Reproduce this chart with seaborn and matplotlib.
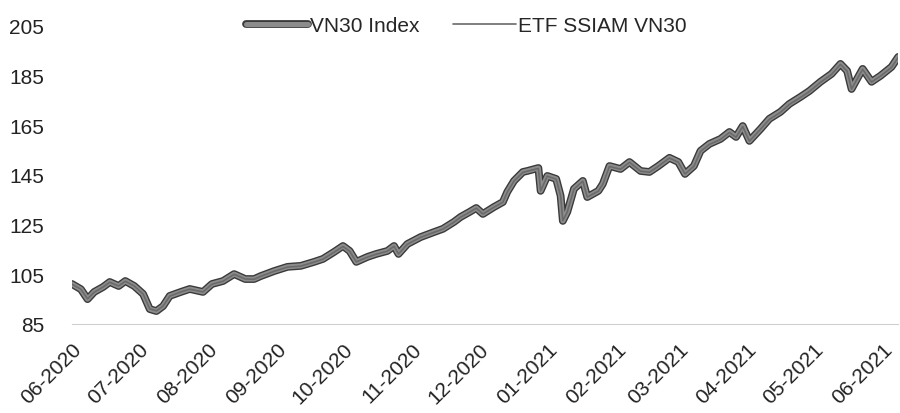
import pandas as pd
import seaborn as sns
import matplotlib.dates as mdates
import matplotlib.patheffects as pe
from matplotlib import pyplot as plt

# duong gia tri doc tu bieu do (goc = 100)
dates = [
    "2020-06-01", "2020-06-05", "2020-06-08", "2020-06-11", "2020-06-15", "2020-06-18",
    "2020-06-22", "2020-06-25", "2020-06-29", "2020-07-03", "2020-07-06", "2020-07-09",
    "2020-07-12", "2020-07-15", "2020-07-20", "2020-07-24", "2020-07-30", "2020-08-03",
    "2020-08-08", "2020-08-13", "2020-08-18", "2020-08-22", "2020-08-25", "2020-08-31",
    "2020-09-06", "2020-09-12", "2020-09-18", "2020-09-22", "2020-09-27", "2020-10-01",
    "2020-10-04", "2020-10-07", "2020-10-12", "2020-10-16", "2020-10-21", "2020-10-24",
    "2020-10-26", "2020-10-30", "2020-11-05", "2020-11-11", "2020-11-15", "2020-11-20",
    "2020-11-23", "2020-11-27", "2020-11-30", "2020-12-03", "2020-12-08", "2020-12-12",
    "2020-12-14", "2020-12-17", "2020-12-21", "2020-12-23", "2020-12-28", "2020-12-29",
    "2021-01-01", "2021-01-05", "2021-01-07", "2021-01-08", "2021-01-10", "2021-01-13",
    "2021-01-17", "2021-01-19", "2021-01-24", "2021-01-26", "2021-01-29", "2021-02-03",
    "2021-02-07", "2021-02-12", "2021-02-16", "2021-02-20", "2021-02-25", "2021-03-01",
    "2021-03-04", "2021-03-08", "2021-03-11", "2021-03-15", "2021-03-20", "2021-03-24",
    "2021-03-27", "2021-03-30", "2021-04-02", "2021-04-07", "2021-04-11", "2021-04-16",
    "2021-04-20", "2021-04-25", "2021-04-29", "2021-05-04", "2021-05-09", "2021-05-13",
    "2021-05-16", "2021-05-18", "2021-05-21", "2021-05-23", "2021-05-27", "2021-05-31",
    "2021-06-05", "2021-06-08",
]

vn30 = [
    101.1, 99.0, 95.0, 97.9, 99.9, 101.9,
    100.3, 102.3, 100.3, 97.1, 91.0, 90.2,
    92.2, 96.3, 97.9, 99.1, 97.9, 101.1,
    102.3, 105.1, 103.1, 103.1, 104.3, 106.3,
    108.0, 108.4, 110.0, 111.2, 114.0, 116.4,
    114.4, 110.0, 112.0, 113.2, 114.4, 116.4,
    113.2, 117.2, 120.0, 122.0, 123.3, 126.1,
    128.1, 130.1, 131.7, 129.3, 132.1, 134.1,
    138.2, 142.6, 146.2, 146.6, 147.8, 138.6,
    144.6, 143.4, 136.6, 126.5, 130.1, 139.4,
    142.6, 136.1, 138.6, 141.4, 148.6, 147.4,
    150.2, 146.6, 146.2, 148.6, 151.9, 150.2,
    145.4, 148.6, 154.7, 157.5, 159.5, 162.3,
    160.3, 164.7, 158.7, 163.5, 167.6, 170.4,
    173.6, 176.4, 178.8, 182.5, 185.7, 189.7,
    186.9, 179.6, 184.5, 187.7, 182.5, 184.9,
    188.5, 192.5,
]

etf = [
    101.0, 99.0, 95.1, 97.8, 99.9, 101.8,
    100.3, 102.2, 100.3, 97.1, 91.1, 90.3,
    92.2, 96.2, 97.9, 99.0, 97.9, 101.0,
    102.2, 105.0, 103.1, 103.0, 104.2, 106.2,
    107.9, 108.3, 109.9, 111.1, 113.9, 116.2,
    114.3, 110.0, 111.9, 113.1, 114.3, 116.3,
    113.2, 117.1, 119.9, 121.9, 123.2, 126.0,
    128.0, 130.0, 131.6, 129.3, 132.0, 134.0,
    138.1, 142.5, 146.0, 146.5, 147.6, 138.6,
    144.5, 143.3, 136.6, 126.6, 130.1, 139.3,
    142.5, 136.1, 138.5, 141.3, 148.4, 147.3,
    150.1, 146.5, 146.1, 148.5, 151.8, 150.1,
    145.4, 148.5, 154.5, 157.3, 159.3, 162.1,
    160.2, 164.5, 158.6, 163.4, 167.4, 170.2,
    173.4, 176.2, 178.6, 182.3, 185.5, 189.5,
    186.8, 179.6, 184.4, 187.5, 182.4, 184.8,
    188.3, 192.3,
]

y_ticks = [85, 105, 125, 145, 165, 185, 205]

df = pd.DataFrame({"date": pd.to_datetime(dates), "vn30": vn30, "etf": etf})

sns.set_style("white")
plt.rcParams['font.family'] = ['Liberation Sans', 'DejaVu Sans']

fig, ax = plt.subplots(figsize=(9, 4.14), dpi=100)
fig.subplots_adjust(left=0.08, right=0.998, bottom=0.215, top=0.935)

sns.lineplot(data=df, x="date", y="vn30", ax=ax, color="#8c8c8c", linewidth=3.6,
             label="VN30 Index", solid_capstyle="round", solid_joinstyle="round",
             path_effects=[pe.Stroke(linewidth=5.6, foreground="#3a3a3a"), pe.Normal()])
sns.lineplot(data=df, x="date", y="etf", ax=ax, color="#6a6a6a", linewidth=1.2,
             label="ETF SSIAM VN30")

ax.set_ylim(85, 205)
ax.set_yticks(y_ticks)
ax.set_xlim(pd.Timestamp("2020-06-01"), pd.Timestamp("2021-06-08"))
ax.xaxis.set_major_locator(mdates.MonthLocator())
ax.xaxis.set_major_formatter(mdates.DateFormatter("%m-%Y"))
plt.setp(ax.get_xticklabels(), rotation=45, ha="right", rotation_mode="anchor")
ax.tick_params(length=0, labelsize=15, colors="#222222")
ax.tick_params(axis="y", pad=20)
ax.tick_params(axis="x", pad=11)
ax.set_xlabel("")
ax.set_ylabel("")

for s in ["top", "right", "left"]:
    ax.spines[s].set_visible(False)
ax.spines["bottom"].set_color("#cfcfcf")
ax.spines["bottom"].set_linewidth(0.8)

ax.legend(loc="center", bbox_to_anchor=(0.518, 0.935), bbox_transform=fig.transFigure,
          ncol=2, frameon=False, fontsize=15, handlelength=3.0, handletextpad=0.1,
          columnspacing=1.6)

plt.savefig("out.png", dpi=100)
